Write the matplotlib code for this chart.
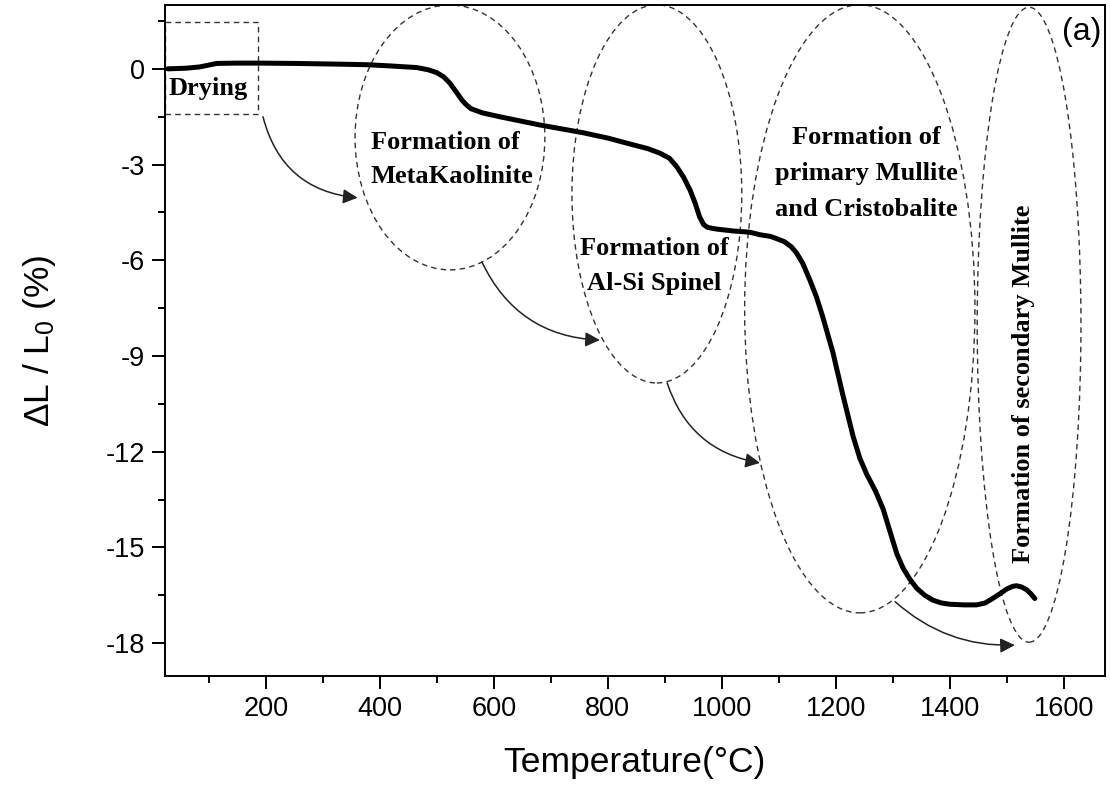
import numpy as np
import matplotlib.pyplot as plt
from matplotlib.patches import Ellipse, Rectangle, FancyArrowPatch
from matplotlib.ticker import MultipleLocator

plt.rcParams['font.family'] = ['Liberation Sans', 'DejaVu Sans']
plt.rcParams['mathtext.fontset'] = 'custom'
plt.rcParams['mathtext.rm'] = 'Liberation Sans'
plt.rcParams['mathtext.default'] = 'regular'
plt.rcParams['axes.unicode_minus'] = False

# dilatometry curve: temperature (°C) and linear shrinkage dL/L0 (%)
temp = [28, 60, 84, 114, 150, 186, 250, 320, 377, 420, 465, 485, 500, 512,
        523, 535, 545, 552, 560, 580, 610, 681, 756, 800, 844, 870, 891, 908,
        921, 933, 944, 953, 961, 968, 975, 990, 1019, 1049, 1067, 1085, 1096,
        1110, 1122, 1131, 1142, 1154, 1166, 1177, 1195, 1212, 1230, 1242,
        1254, 1270, 1283, 1295, 1307, 1318, 1330, 1342, 1356, 1370, 1385,
        1400, 1425, 1447, 1462, 1475, 1488, 1500, 1510, 1517, 1526, 1535,
        1542, 1549]
shrink = [0, 0.02, 0.06, 0.17, 0.18, 0.18, 0.17, 0.15, 0.13, 0.09, 0.04,
          -0.03, -0.12, -0.25, -0.45, -0.75, -1.0, -1.13, -1.25, -1.38, -1.5,
          -1.76, -2.0, -2.17, -2.38, -2.5, -2.64, -2.8, -3.07, -3.4, -3.79,
          -4.2, -4.64, -4.88, -4.97, -5.02, -5.08, -5.12, -5.2, -5.25, -5.32,
          -5.42, -5.58, -5.77, -6.1, -6.6, -7.15, -7.77, -8.9, -10.2, -11.5,
          -12.2, -12.7, -13.25, -13.8, -14.5, -15.2, -15.65, -16.0, -16.28,
          -16.5, -16.65, -16.74, -16.78, -16.8, -16.8, -16.74, -16.6, -16.45,
          -16.3, -16.22, -16.2, -16.24, -16.33, -16.45, -16.6]

# stage regions: (centre T, centre dL, width, height)
regions = [(523, -2.15, 333, 8.3),
           (886, -3.92, 298, 11.85),
           (1242, -7.52, 404, 19.06),
           (1539, -8.02, 182, 19.9)]

# arrows between stages: (start, end, curvature)
arrows = [((195, -1.5), (361, -4.04), 0.35),
          ((579, -6.05), (786, -8.5), 0.3),
          ((904, -9.84), (1067, -12.35), 0.3),
          ((1304, -16.7), (1514, -18.06), 0.2)]

fig = plt.figure(figsize=(11.1, 7.87), dpi=100)
ax = fig.add_axes([0.1486, 0.1410, 0.8468, 0.8526])

ax.plot(temp, shrink, color='black', lw=3.6, solid_capstyle='round',
        solid_joinstyle='round', zorder=5)

dash = (0, (4, 3))
for cx, cy, w, h in regions:
    ax.add_patch(Ellipse((cx, cy), w, h, fill=False, ec='#333333', lw=1.0,
                         linestyle=dash))
ax.add_patch(Rectangle((23, -1.41), 163, 2.89, fill=False, ec='#333333',
                       lw=1.0, linestyle=dash))

for start, end, rad in arrows:
    ax.add_patch(FancyArrowPatch(start, end, arrowstyle='-|>',
                                 connectionstyle=f'arc3,rad={rad}',
                                 mutation_scale=22, lw=1.1, color='#222222',
                                 shrinkA=0, shrinkB=0))

serif = dict(family='Liberation Serif', fontweight='bold', fontsize=19)
ax.text(30, -0.63, 'Drying', ha='left', va='center', **serif)
ax.text(384, -2.84, 'Formation of\nMetaKaolinite', ha='left', va='center',
        linespacing=1.65, **serif)
ax.text(882, -6.18, 'Formation of\nAl-Si Spinel', ha='center', va='center',
        linespacing=1.7, **serif)
ax.text(1254, -3.28, 'Formation of\nprimary Mullite\nand Cristobalite',
        ha='center', va='center', linespacing=1.7, **serif)
ax.text(1530, -9.87, 'Formation of secondary Mullite', ha='center',
        va='center', rotation=90, **serif)
ax.text(0.996, 0.96, '(a)', transform=ax.transAxes, ha='right', va='center',
        fontsize=23)

ax.set_xlim(23, 1672)
ax.set_ylim(-19.03, 2.0)
ax.xaxis.set_major_locator(MultipleLocator(200))
ax.xaxis.set_minor_locator(MultipleLocator(100))
ax.yaxis.set_major_locator(MultipleLocator(3))
ax.yaxis.set_minor_locator(MultipleLocator(1.5))
ax.set_xticks([200, 400, 600, 800, 1000, 1200, 1400, 1600])
ax.tick_params(which='major', direction='out', length=9.5, width=1.4,
               labelsize=19.5, pad=5)
ax.tick_params(which='minor', direction='out', length=5, width=1.4)
for s in ax.spines.values():
    s.set_linewidth(1.4)

ax.set_xlabel('Temperature(°C)', fontsize=25.5)
ax.set_ylabel('ΔL / L$_0$ (%)', fontsize=25.5)
ax.xaxis.set_label_coords(0.5, -0.105)
ax.yaxis.set_label_coords(-0.114, 0.5)

fig.savefig('out.png', dpi=100)
